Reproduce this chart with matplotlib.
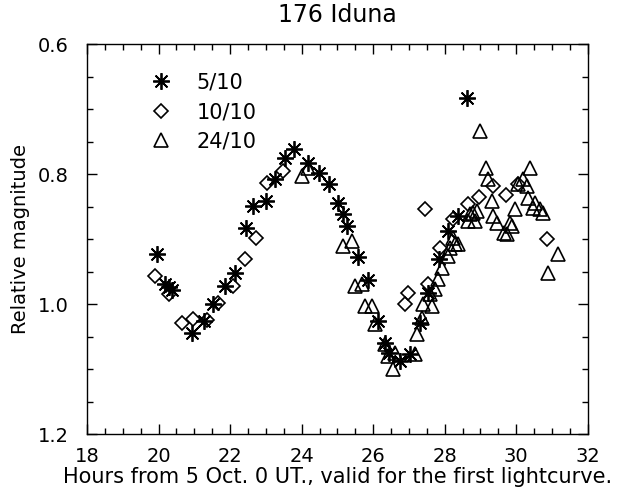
import numpy as np
import matplotlib
matplotlib.use("Agg")
import matplotlib.pyplot as plt
from matplotlib.ticker import MultipleLocator

# 5/10 lightcurve (asterisks)
x_0510 = [19.96, 20.18, 20.29, 20.37, 20.93, 21.27, 21.52, 21.85, 22.13, 22.44,
          22.64, 23.00, 23.25, 23.53, 23.80, 24.17, 24.48, 24.76, 25.01, 25.15,
          25.26, 25.57, 25.85, 26.13, 26.33, 26.45, 26.74, 27.02, 27.30, 27.53,
          27.83, 28.08, 28.36, 28.61]
y_0510 = [0.923, 0.969, 0.974, 0.978, 1.045, 1.026, 1.000, 0.972, 0.952, 0.883,
          0.849, 0.842, 0.808, 0.775, 0.762, 0.783, 0.798, 0.815, 0.845, 0.862,
          0.880, 0.928, 0.963, 1.026, 1.060, 1.075, 1.088, 1.077, 1.029, 0.983,
          0.931, 0.888, 0.865, 0.683]

# 10/10 lightcurve (diamonds)
x_1010 = [19.90, 20.29, 20.65, 20.96, 21.35, 21.66, 22.08, 22.41, 22.72, 23.03,
          23.47, 26.88, 26.97, 27.44, 27.53, 27.86, 28.22, 28.64, 28.97, 29.34,
          29.72, 30.04, 30.85]
y_1010 = [0.957, 0.985, 1.029, 1.023, 1.025, 0.998, 0.972, 0.931, 0.898, 0.814,
          0.795, 1.000, 0.983, 0.854, 0.969, 0.914, 0.869, 0.846, 0.835, 0.818,
          0.832, 0.815, 0.900]

# 24/10 lightcurve (triangles)
x_2410 = [24.00, 24.17, 25.15, 25.40, 25.49, 25.68, 25.77, 25.96, 26.05, 26.33,
          26.41, 26.61, 26.55, 27.16, 27.22, 27.36, 27.39, 27.64, 27.58, 27.72,
          27.80, 27.92, 28.08, 28.14, 28.22, 28.36, 28.28, 28.64, 28.80, 28.86,
          28.70, 28.90, 29.00, 29.14, 29.20, 29.31, 29.34, 29.45, 29.73, 29.82,
          29.96, 30.06, 30.18, 30.31, 30.38, 30.34, 30.53, 30.48, 30.67, 30.76,
          29.67, 29.87, 31.16, 30.88]
y_2410 = [0.803, 0.790, 0.911, 0.903, 0.972, 0.969, 1.003, 1.003, 1.031, 1.062,
          1.080, 1.075, 1.100, 1.077, 1.046, 1.022, 1.000, 1.003, 0.985, 0.977,
          0.962, 0.945, 0.926, 0.914, 0.898, 0.908, 0.908, 0.872, 0.860, 0.872,
          0.862, 0.857, 0.734, 0.791, 0.808, 0.842, 0.865, 0.875, 0.892, 0.875,
          0.854, 0.815, 0.808, 0.818, 0.791, 0.837, 0.845, 0.852, 0.854, 0.860,
          0.891, 0.880, 0.923, 0.952]

labels = ["5/10", "10/10", "24/10"]

plt.rcParams['font.family'] = ['DejaVu Sans']

fig = plt.figure(figsize=(6.26, 4.96), dpi=100)
ax = fig.add_axes([0.139, 0.125, 0.800, 0.786])

asterisk = (8, 2, 0)
ax.plot(x_0510, y_0510, linestyle='none', marker=asterisk, markersize=12,
        markeredgewidth=1.3, color='black', label=labels[0])
ax.plot(x_1010, y_1010, linestyle='none', marker='D', markersize=7.5,
        markeredgewidth=1.2, markerfacecolor='none', markeredgecolor='black',
        label=labels[1])
ax.plot(x_2410, y_2410, linestyle='none', marker='^', markersize=10.5,
        markeredgewidth=1.2, markerfacecolor='none', markeredgecolor='black',
        label=labels[2])

ax.set_xlim(18, 32)
ax.set_ylim(1.2, 0.6)
ax.xaxis.set_major_locator(MultipleLocator(2))
ax.xaxis.set_minor_locator(MultipleLocator(0.5))
ax.yaxis.set_major_locator(MultipleLocator(0.2))
ax.yaxis.set_minor_locator(MultipleLocator(0.05))
ax.tick_params(which='both', direction='in', top=True, right=True,
               labelsize=14, width=1.0)
ax.tick_params(axis='x', which='major', length=7, pad=9)
ax.tick_params(axis='y', which='major', length=7, pad=13)
ax.tick_params(which='minor', length=4)
ax.set_yticks([0.6, 0.8, 1.0, 1.2])
ax.set_yticklabels(["0.6", "0.8", "1.0", "1.2"])
for s in ax.spines.values():
    s.set_linewidth(1.0)

ax.set_title("176 Iduna", fontsize=17, pad=16)
ax.set_xlabel("Hours from 5 Oct. 0 UT., valid for the first lightcurve.",
              fontsize=15, labelpad=1)
ax.set_ylabel("Relative magnitude", fontsize=14, labelpad=6)

ax.legend(loc='upper left', bbox_to_anchor=(0.09, 0.975), frameon=False,
          fontsize=15, handlelength=1.0, handletextpad=1.2, labelspacing=0.45,
          numpoints=1)

fig.savefig("out.png", dpi=100)
